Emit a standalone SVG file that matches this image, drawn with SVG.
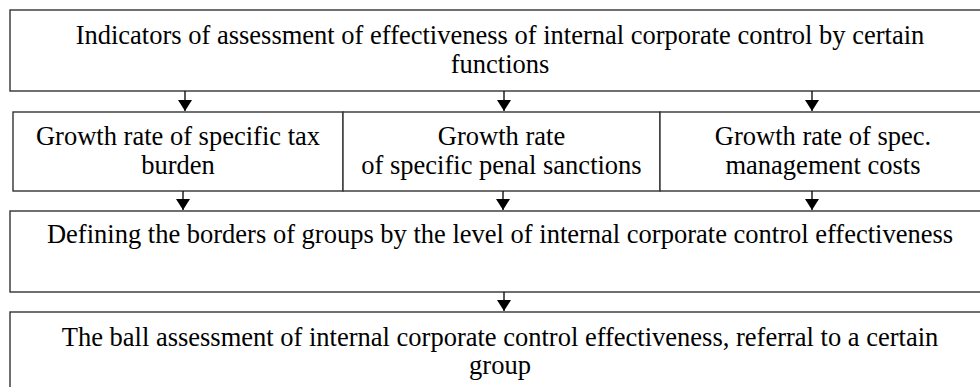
<svg xmlns="http://www.w3.org/2000/svg" width="980" height="387" viewBox="0 0 980 387">
<style>
.box{fill:#fff;stroke:#333;stroke-width:1.4}
.t{font-family:"Liberation Serif","Times New Roman",serif;font-size:26.5px;fill:#000;text-anchor:middle}
.c{stroke:#111;stroke-width:1.4;fill:none}
</style>
<defs>
<marker id="ah" markerWidth="11" markerHeight="14" refX="11" refY="7" orient="auto" markerUnits="userSpaceOnUse" viewBox="0 0 11 14">
<path d="M0,0 L11,7 L0,14 Z" fill="#000"/>
</marker>
</defs>
<rect width="980" height="387" fill="#fff"/>
<g id="n1">
<rect class="box" x="10" y="10" width="980" height="81"/>
<text class="t" x="500" y="44">Indicators of assessment of effectiveness of internal corporate control by certain</text>
<text class="t" x="500" y="72.5">functions</text>
</g>
<g id="n2">
<rect class="box" x="13" y="112" width="330" height="79"/>
<text class="t" x="178" y="145">Growth rate of specific tax</text>
<text class="t" x="178" y="173.5">burden</text>
</g>
<g id="n3">
<rect class="box" x="343" y="112" width="317" height="79"/>
<text class="t" x="501.5" y="145">Growth rate</text>
<text class="t" x="501.5" y="173.5">of specific penal sanctions</text>
</g>
<g id="n4">
<rect class="box" x="660" y="112" width="330" height="79"/>
<text class="t" x="823" y="145">Growth rate of spec.</text>
<text class="t" x="823" y="173.5">management costs</text>
</g>
<g id="n5">
<rect class="box" x="10" y="211" width="980" height="81"/>
<text class="t" x="500" y="243">Defining the borders of groups by the level of internal corporate control effectiveness</text>
</g>
<g id="n6">
<rect class="box" x="10" y="312" width="980" height="90"/>
<text class="t" x="500" y="346">The ball assessment of internal corporate control effectiveness, referral to a certain</text>
<text class="t" x="500" y="374">group</text>
</g>
<g id="connectors">
<line class="c" x1="185" y1="91" x2="185" y2="111" marker-end="url(#ah)"/>
<line class="c" x1="504" y1="91" x2="504" y2="111" marker-end="url(#ah)"/>
<line class="c" x1="812" y1="91" x2="812" y2="111" marker-end="url(#ah)"/>
<line class="c" x1="183" y1="191" x2="183" y2="210" marker-end="url(#ah)"/>
<line class="c" x1="503" y1="191" x2="503" y2="210" marker-end="url(#ah)"/>
<line class="c" x1="812" y1="191" x2="812" y2="210" marker-end="url(#ah)"/>
<line class="c" x1="504" y1="292" x2="504" y2="311" marker-end="url(#ah)"/>
</g>
</svg>
